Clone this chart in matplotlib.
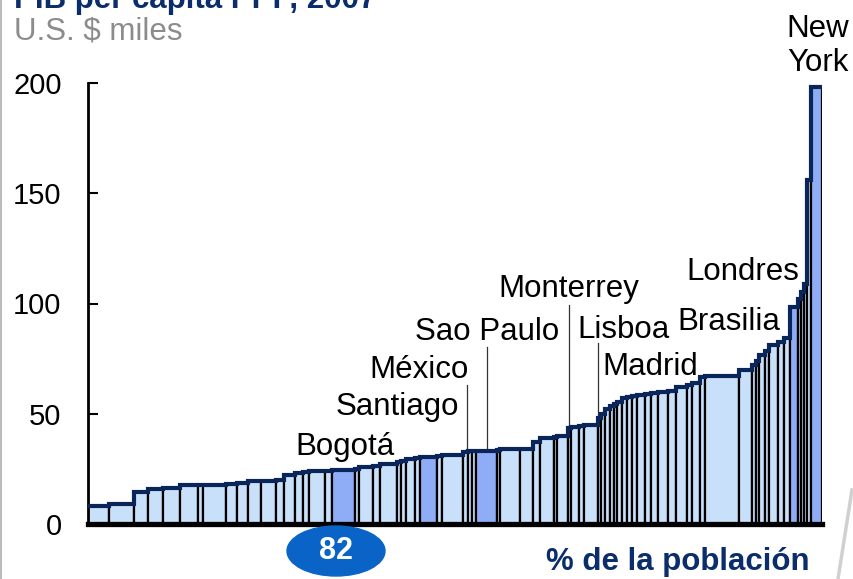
import matplotlib.pyplot as plt
import numpy as np
from matplotlib.patches import Ellipse
from matplotlib.lines import Line2D

plt.rcParams['font.family'] = ['Liberation Sans', 'DejaVu Sans']

# share of population (%) and GDP per capita PPP (US$ thousands), sorted
widths = [2.9, 3.4, 1.9, 2.0, 2.3, 2.5, 0.7, 3.1, 1.5, 1.4, 1.8, 2.0, 1.2, 1.4, 1.1,
          0.8, 2.2, 1.0, 3.1, 0.5, 1.9, 1.0, 2.3, 0.5, 0.8, 1.1, 0.7, 2.3, 0.7, 2.9,
          0.7, 0.5, 0.5, 2.9, 0.4, 2.7, 1.8, 1.0, 1.8, 0.5, 1.4, 0.5, 1.0, 0.7, 1.9,
          0.5, 0.5, 0.7, 0.5, 0.4, 0.7, 0.7, 0.7, 0.7, 1.1, 0.7, 1.0, 1.4, 1.1, 1.4,
          0.7, 1.1, 0.7, 4.6, 1.8, 0.5, 0.5, 0.8, 0.5, 1.2, 0.8, 0.8, 1.1, 0.5, 0.4,
          0.4, 0.5, 1.5]
values = [8, 9, 14.5, 16, 16.5, 17.5, 17.5, 17.5, 18, 18.5, 19.5, 19.5, 20, 22, 23,
          23.5, 24, 24, 24.5, 25, 26, 26.5, 27, 28, 28.5, 29.5, 30, 30.5, 31, 31.5,
          32.5, 33, 33, 33, 33.5, 34, 34, 37, 39, 39.5, 40, 43.5, 44, 44.5, 45,
          48, 50, 52, 53.5, 54.5, 55.5, 57, 57.5, 58, 58.5, 59, 59.5, 60, 60.5, 62,
          63, 64, 66.5, 67, 70, 72, 74, 76.5, 78.5, 81, 82.5, 84.5, 98.5, 102, 105,
          109, 156, 198]
highlighted = [18, 27, 33, 72, 77]

cities = ['Bogotá', 'Santiago', 'México', 'Sao Paulo', 'Monterrey', 'Lisboa',
          'Madrid', 'Brasilia', 'Londres', 'New\nYork']

edges = np.concatenate([[0], np.cumsum(widths)])
total = edges[-1]
colors = ['#8fadf6' if i in highlighted else '#c8e0f9' for i in range(len(values))]

fig = plt.figure(figsize=(8.54, 5.79), dpi=100)
ax = fig.add_axes([88 / 854, 1 - 524 / 579, 734 / 854, 441 / 579])

ax.bar(edges[:-1], values, width=widths, align='edge', color=colors,
       edgecolor='black', linewidth=1.6, zorder=2)
ax.stairs(values, edges, baseline=None, color='#0a2559', linewidth=3, zorder=3)

ax.set_xlim(0, total)
ax.set_ylim(0, 200)
ax.set_yticks([0, 50, 100, 150, 200])
ax.set_xticks([])
for s in ['top', 'right']:
    ax.spines[s].set_visible(False)
ax.spines['left'].set_linewidth(2)
ax.spines['bottom'].set_linewidth(3.8)
ax.spines['bottom'].set_zorder(4)
ax.tick_params(axis='y', direction='in', length=7, width=1.5, pad=19, labelsize=21)


def px(x, y):
    # pixel position of the reference picture -> data coordinates
    return (x - 88) / 734 * total, (524 - y) / 2.205


label_pos = [(345, 455), (397, 415), (419, 378), (487, 340), (569, 297),
             (624, 338), (650, 375), (729, 330), (743, 280), (818, 71)]
for name, (lx, ly) in zip(cities, label_pos):
    ax.text(*px(lx, ly), name, ha='center', va='baseline', fontsize=22.5,
            linespacing=1.17, clip_on=False, zorder=5)

leaders = [(467, 385, 452), (487, 347, 450), (569, 305, 427), (598, 343, 417)]
for lx, y0, y1 in leaders:
    xa, ya = px(lx, y0)
    _, yb = px(lx, y1)
    ax.plot([xa, xa], [ya, yb], color='#333333', linewidth=0.9, zorder=1)

fig.text(14 / 854, 1 - 8 / 579, 'PIB per cápita PPP, 2007', color='#0b2d6b',
         fontsize=22.5, fontweight='bold', ha='left', va='baseline')
fig.text(14 / 854, 1 - 40 / 579, 'U.S. $ miles', color='#8c8c8c',
         fontsize=22.5, ha='left', va='baseline')

fig.patches.append(Ellipse((336 / 854, 1 - 551 / 579), 98 / 854, 50 / 579,
                           transform=fig.transFigure, color='#0a64c8'))
fig.text(336 / 854, 1 - 551 / 579, '82', color='white', fontsize=22,
         fontweight='bold', ha='center', va='center')
fig.text(810 / 854, 1 - 570 / 579, '% de la población', color='#0b2d6b',
         fontsize=22.5, fontweight='bold', ha='right', va='baseline')

fig.lines.append(Line2D([1 / 854, 1 / 854], [0, 1], transform=fig.transFigure,
                        color='#bbbbbb', linewidth=1.5))
fig.lines.append(Line2D([838 / 854, 852 / 854], [0, 1 - 490 / 579],
                        transform=fig.transFigure, color='#d0d0d0', linewidth=2.5))

fig.savefig('out.png', dpi=100)
